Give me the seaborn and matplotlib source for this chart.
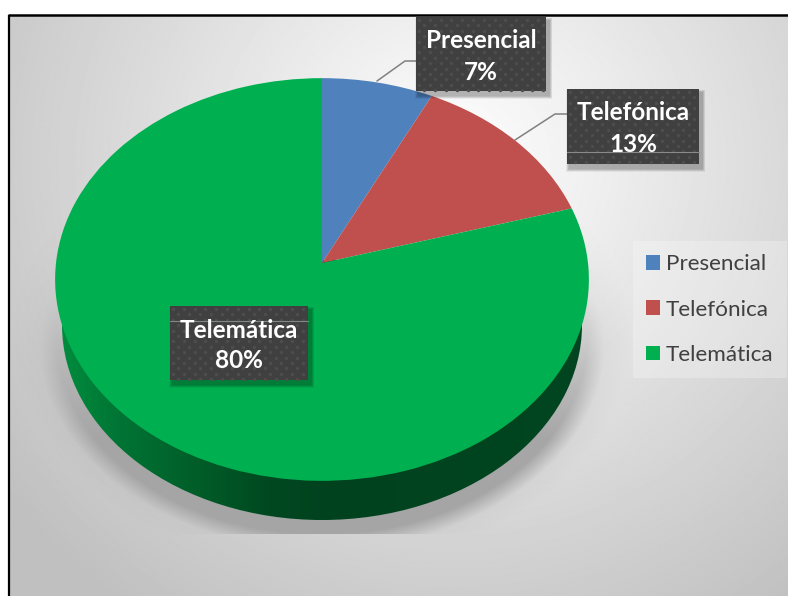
import numpy as np
import pandas as pd
import seaborn as sns
import matplotlib
matplotlib.use("Agg")
import matplotlib.pyplot as plt
from matplotlib.patches import Ellipse, Rectangle
from matplotlib.path import Path
from matplotlib.transforms import Transform

# Datos
categorias = ["Presencial", "Telefónica", "Telemática"]
porcentajes = [7.3, 13.2, 79.5]
colores = ["#4F81BD", "#C0504D", "#00B050"]

W, H = 788, 596


class Perspectiva(Transform):
    # lleva el circulo unidad del pie al disco visto en perspectiva (en pixeles)
    input_dims = output_dims = 2
    has_inverse = False

    def transform_non_affine(self, values):
        v = np.asarray(values, dtype=float)
        d = 1 + 0.0819 * v[:, 1]
        return np.column_stack((322 + 266 * v[:, 0] / d, 263 - 200 * v[:, 1] / d))

    def transform_path_non_affine(self, path):
        p = path.interpolated(8) if path.codes is None else path
        return Path(self.transform_non_affine(p.vertices), p.codes)


sns.set_theme(style="white")
plt.rcParams["font.family"] = ["Lato", "DejaVu Sans"]

df = pd.DataFrame({"categoria": categorias, "pct": porcentajes, "color": colores})

fig = plt.figure(figsize=(W / 100, H / 100), dpi=100, facecolor="white")
ax = fig.add_axes([0, 0, 1, 1])

wedges, _ = ax.pie(df["pct"], colors=df["color"], startangle=90, counterclock=False,
                   normalize=True, wedgeprops={"linewidth": 0, "antialiased": True, "zorder": 5})
persp = Perspectiva() + ax.transData
for w in wedges:
    w.set_transform(persp)

ax.set_aspect("auto")
ax.set_xlim(0, W)
ax.set_ylim(H, 0)
ax.axis("off")

# 1. Fondo gris con degradado radial
yy, xx = np.mgrid[0:H, 0:W] + 0.5
r = np.hypot(xx - 450, yy - 150) / 570
fondo = 1 - 0.25 * np.clip(r, 0, 1)
ax.imshow(fondo, cmap="gray", vmin=0, vmax=1, extent=(9, W, H, 16), aspect="auto", zorder=0,
          interpolation="bilinear")
ax.plot([8.7, 8.7], [H, 15], color="black", lw=1.6, zorder=1, solid_capstyle="butt")
ax.plot([8, W], [15, 15], color="black", lw=1.8, zorder=1, solid_capstyle="butt")
ax.set_xlim(0, W)
ax.set_ylim(H, 0)

# 2. Sombra del disco: zona oscura junto al canto y halo debil alrededor
s = np.hypot((xx - 322) / 260, (yy - 335) / 195)
dist = (s - 1) * 225
alfa = (1 - np.clip((dist - 5) / 20, 0, 1)) * np.clip((yy - 270) / 170, 0, 1)
halo = 0.22 * (1 - np.clip(dist / 42, 0, 1)) * np.clip((yy - 215) / 130, 0, 1)
sombra = np.zeros((H, W, 4))
sombra[..., :3] = 0.64
sombra[..., 3] = np.maximum(alfa, halo) * 0.95 * (yy < 534.5)
ax.imshow(sombra, extent=(0, W, H, 0), aspect="auto", zorder=2)

# 3. Canto lateral verde con degradado horizontal
gx = np.array([62, 120, 200, 270, 330, 590])
gv = np.array([[0, 140, 62], [0, 116, 52], [0, 92, 40], [0, 72, 32], [0, 66, 30], [0, 70, 32]]) / 255
xs = np.arange(W) + 0.5
canto = np.stack([np.interp(xs, gx, gv[:, i]) for i in range(3)], axis=1)[None, :, :]
im = ax.imshow(canto, extent=(0, W, 525, 260), aspect="auto", zorder=3)
elipse = Ellipse((322, 325), 520, 390, transform=ax.transData, fc="none", ec="none")
ax.add_patch(elipse)
im.set_clip_path(elipse)


# 4. Etiquetas de datos
def etiqueta(x0, y0, x1, y1, nombre, pct, ty):
    for k in [7, 6, 5, 4, 3, 2]:
        ax.add_patch(Rectangle((x0 + 3 - k / 2, y0 + 4 - k / 2), x1 - x0 + k, y1 - y0 + k,
                               fc="black", ec="none", alpha=0.05, zorder=6))
    caja = Rectangle((x0, y0), x1 - x0, y1 - y0, fc="#404040", ec="none", zorder=7)
    ax.add_patch(caja)
    # trama de puntitos
    py, px = np.mgrid[y0 + 3:y1:5.4, x0 + 3:x1:5.4]
    fila = np.round((py - y0 - 3) / 5.4).astype(int)
    col = np.round((px - x0 - 3) / 5.4).astype(int)
    m = (fila + col) % 2 == 0
    ax.scatter(px[m], py[m], s=6, color="#4d4d4d", linewidths=0, zorder=8)
    ax.text((x0 + x1) / 2, ty, nombre, color="white", fontweight="bold", fontsize=17.5,
            ha="center", va="center", zorder=10)
    ax.text((x0 + x1) / 2, ty + 31, f"{pct:.0f}%", color="white", fontweight="bold", fontsize=17.5,
            ha="center", va="center", zorder=10)


etiqueta(416, 17, 546, 91, categorias[0], porcentajes[0], 41)
etiqueta(567, 89, 699, 164, categorias[1], porcentajes[1], 113)
etiqueta(170, 306, 308, 380, categorias[2], porcentajes[2], 330)

# lineas finas que cruzan dos de las cajas
ax.plot([567, 699], [152, 152], color="#8a8a8a", lw=0.8, zorder=9)
ax.plot([170, 308], [321, 321], color="#7c8a82", lw=0.8, zorder=9)

# lineas guia
ax.plot([377, 405, 416], [81, 61, 61], color="#808080", lw=1.1, zorder=4)
ax.plot([515, 555, 567], [140, 114, 114], color="#808080", lw=1.1, zorder=4)

# 5. Leyenda
ley = ax.legend(wedges, categorias, loc="upper left", bbox_to_anchor=(633, 241),
                bbox_transform=ax.transData, borderaxespad=0, fontsize=16.2,
                handlelength=0.62, handleheight=0.62, handletextpad=0.24,
                labelspacing=1.12, borderpad=0.6, fancybox=False, frameon=True,
                facecolor="white", edgecolor="none", framealpha=0.25, labelcolor="#404040")
ley.set_zorder(6)

fig.savefig("out.png", dpi=100)
